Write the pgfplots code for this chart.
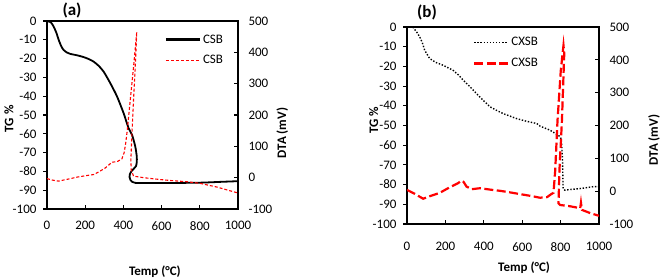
\documentclass[border=0pt]{standalone}
\usepackage{pgfplots}
\pgfplotsset{compat=1.18}
\usepackage{fontspec}
\setmainfont{Carlito}
\definecolor{dtared}{RGB}{255,0,0}
\pgfplotsset{
  every axis title shift=0pt,
  base/.style={
    scale only axis, xmin=0, xmax=1000,
    axis line style={line width=1.6pt},
    tick style={line width=1.1pt, black},
    major tick length=4pt,
    tick label style={font=\fontsize{13}{15}\selectfont},
    /pgf/number format/assume math mode=true,
    /pgf/number format/1000 sep={},
    label style={font=\bfseries\fontsize{13}{15}\selectfont},
  },
  tgaxis/.style={base, ymin=-100, ymax=0, ytick={-100,-90,...,0},
    ytick pos=left, tick align=outside, xtick=\empty,
    yticklabel style={xshift=-3pt}},
  dtaaxis/.style={base, ymin=-100, ymax=500, ytick={-100,0,...,500},
    axis y line*=right, axis x line*=bottom, xtick={0,200,...,1000},
    tick align=inside,
    yticklabel style={xshift=7pt}, xticklabel style={yshift=-9pt},
    legend cell align=left,
    legend image code/.code={\draw[##1] (0pt,0pt) -- (34pt,0pt);},
  },
}
\begin{document}
\begin{tikzpicture}
\useasboundingbox (0,0) rectangle (661pt,279pt);
% ---------------- panel (a) ----------------
\begin{axis}[tgaxis, at={(47pt,70pt)}, anchor=south west, width=191pt, height=188pt,
  ylabel={TG \%}, ylabel style={at={(axis description cs:-0.199,0.48)}, anchor=center},
  title={(a)}, title style={at={(axis description cs:0.131,1.055)}, anchor=center, font=\bfseries\fontsize{17}{19}\selectfont}]
\addplot[black, line width=1.8pt, smooth, tension=0.4] coordinates {
(0,0) (20,-0.7) (35,-3) (50,-6.5) (61,-10) (75,-13.5) (87,-15.4) (105,-16.8) (122,-17.5)
(160,-18.3) (192,-19.2) (220,-20.3) (244,-21.6) (270,-23.8) (297,-27) (331,-33) (366,-40)
(401,-49) (427,-57) (445,-60.5) (462,-66.7) (470,-72) (470,-75) (466,-77.2) (455,-78.5)
(443,-79.8) (434,-81.5) (432,-83) (437,-84.6) (447,-85.6) (462,-86.1) (505,-86.2) (600,-86.2)
(800,-86) (900,-85.6) (1000,-85.2)};
\end{axis}
\begin{axis}[dtaaxis, at={(47pt,70pt)}, anchor=south west, width=191pt, height=188pt,
  ylabel={DTA (mV)}, ylabel style={at={(axis description cs:1.232,0.404)}, anchor=center},
  xlabel={Temp (°C)}, xlabel style={at={(axis description cs:0.565,-0.335)}, anchor=center},
  legend style={draw=none, fill=none, at={(axis description cs:0.6,0.95)}, anchor=north west,
    font=\fontsize{13}{15}\selectfont, row sep=7pt}]
\addlegendimage{black, line width=2.2pt}
\addlegendentry{CSB}
\addplot[dtared, line width=1.1pt, dash pattern=on 3pt off 2pt] coordinates {
(0,-3) (30,-8) (60,-11) (100,-6) (160,2) (210,7) (245,10) (270,18) (305,31) (340,49)
(370,52) (392,60) (404,80) (412,110) (420,150) (436,248) (453,353) (470,465)
(462,353) (453,248) (445,143) (439,57) (441,25) (453,5) (505,0) (593,-6) (645,-9)
(733,-13) (800,-18) (890,-30) (1000,-49)};
\addlegendentry{CSB}
\end{axis}
% ---------------- panel (b) ----------------
\begin{axis}[tgaxis, at={(407pt,55pt)}, anchor=south west, width=192pt, height=197pt,
  ylabel={TG \%}, ylabel style={at={(axis description cs:-0.173,0.528)}, anchor=center},
  title={(b)}, title style={at={(axis description cs:0.104,1.074)}, anchor=center, font=\bfseries\fontsize{17}{19}\selectfont}]
\addplot[black, line width=1.4pt, line cap=butt, dash pattern=on 1.4pt off 1.7pt] coordinates {
(30,0) (50,-2.5) (66,-5) (80,-8) (92,-11.8) (118,-16) (150,-18) (188,-19.4) (240,-22)
(270,-24.5) (293,-27) (330,-30.5) (362,-33.8) (400,-37.5) (432,-40.5) (470,-42.5)
(502,-44) (571,-46.5) (620,-47.8) (676,-49) (693,-50.3) (745,-52.4) (787,-54.9)
(800,-56) (805,-59) (810,-67.6) (813,-82) (822,-82.8) (860,-82.4) (902,-82) (940,-81.5)
(972,-81) (1000,-81)};
\end{axis}
\begin{axis}[dtaaxis, at={(407pt,55pt)}, anchor=south west, width=192pt, height=197pt,
  ylabel={DTA (mV)}, ylabel style={at={(axis description cs:1.286,0.426)}, anchor=center},
  xlabel={Temp (°C)}, xlabel style={at={(axis description cs:0.61,-0.223)}, anchor=center},
  xticklabel style={yshift=-6pt},
  legend style={draw=none, fill=none, at={(axis description cs:0.328,0.968)}, anchor=north west,
    font=\fontsize{13}{15}\selectfont, row sep=7pt}]
\addlegendimage{black, line width=1.4pt, line cap=butt, dash pattern=on 1.4pt off 1.7pt}
\addlegendentry{CXSB}
\addplot[dtared, line width=2.2pt, dash pattern=on 9pt off 3.5pt] coordinates {
(0,4) (40,-8) (84,-23) (130,-13) (171,-5) (223,12) (265,24) (284,32) (295,28) (310,14)
(337,6) (380,9) (430,5) (485,1) (530,-3) (589,-9) (640,-14) (693,-20) (730,-18) (751,-9)
(763,-5) (772,64) (784,216) (801,368) (815,444) (819,419) (807,216) (794,64) (789,-37)
(797,-42) (850,-46) (902,-52) (906,-35) (911,-57) (955,-67) (1000,-75)};
\addlegendentry{CXSB}
\end{axis}
\end{tikzpicture}
\end{document}
